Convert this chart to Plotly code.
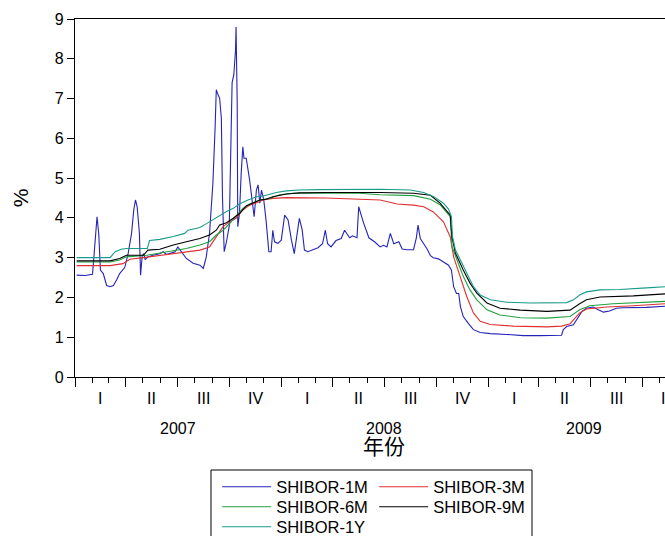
import plotly.graph_objects as go
import pandas as pd

# ---------------- data ----------------
dates_1m = ["2007-01-04","2007-01-19","2007-02-01","2007-02-05","2007-02-09","2007-02-12","2007-02-15","2007-02-20",
            "2007-02-26","2007-03-04","2007-03-10","2007-03-16","2007-03-21","2007-03-30","2007-04-05","2007-04-11",
            "2007-04-15","2007-04-18","2007-04-21","2007-04-25","2007-04-27","2007-04-30","2007-05-03","2007-05-05",
            "2007-05-10","2007-05-19","2007-05-31","2007-06-06","2007-06-12","2007-06-21","2007-06-27","2007-07-02",
            "2007-07-08","2007-07-17","2007-07-29","2007-08-10","2007-08-16","2007-08-21","2007-08-27","2007-09-02",
            "2007-09-06","2007-09-08","2007-09-11","2007-09-14","2007-09-17","2007-09-19","2007-09-22","2007-09-26",
            "2007-10-01","2007-10-03","2007-10-06","2007-10-09","2007-10-12","2007-10-13","2007-10-15","2007-10-16",
            "2007-10-19","2007-10-22","2007-10-25","2007-10-27","2007-10-31","2007-11-06","2007-11-11","2007-11-14",
            "2007-11-18","2007-11-21","2007-11-24","2007-11-27","2007-12-01","2007-12-05","2007-12-10","2007-12-14",
            "2007-12-17","2007-12-20","2007-12-26","2008-01-01","2008-01-07","2008-01-13","2008-01-19","2008-01-24",
            "2008-01-29","2008-02-02","2008-02-07","2008-02-11","2008-02-17","2008-02-26","2008-03-06","2008-03-14",
            "2008-03-19","2008-03-23","2008-03-29","2008-04-07","2008-04-16","2008-04-22","2008-04-26","2008-05-01",
            "2008-05-06","2008-05-14","2008-05-17","2008-05-25","2008-06-04","2008-06-14","2008-06-24","2008-06-30",
            "2008-07-06","2008-07-12","2008-07-18","2008-07-27","2008-08-02","2008-08-10","2008-08-22","2008-08-27",
            "2008-08-30","2008-09-03","2008-09-09","2008-09-15","2008-09-21","2008-09-26","2008-10-05","2008-10-14",
            "2008-10-23","2008-10-28","2008-10-30","2008-11-01","2008-11-06","2008-11-10","2008-11-13","2008-11-18",
            "2008-11-27","2008-12-06","2008-12-18","2009-01-05","2009-02-03","2009-03-04","2009-04-03","2009-05-11",
            "2009-05-14","2009-05-20","2009-06-01","2009-06-10","2009-06-16","2009-06-24","2009-07-06","2009-07-15",
            "2009-07-24","2009-08-04","2009-08-16","2009-08-28","2009-09-15","2009-10-08","2009-11-10"]
shibor_1m = [2.56,2.55,2.58,3.40,4.03,3.60,2.69,2.60,
             2.30,2.27,2.30,2.45,2.60,2.75,3.10,3.60,
             4.20,4.45,4.28,3.60,2.56,3.05,3.10,2.95,
             3.02,3.06,3.10,3.15,3.08,3.12,3.15,3.27,
             3.15,2.98,2.86,2.81,2.73,3.00,3.60,4.87,
             6.30,7.22,7.10,7.00,6.50,4.50,3.15,3.40,
             3.80,5.00,7.40,7.60,8.20,8.80,6.90,3.78,
             4.10,5.10,5.79,5.50,5.50,4.95,4.45,4.03,
             4.70,4.83,4.37,4.70,4.45,3.95,3.15,3.15,
             3.69,3.40,3.36,3.44,4.07,3.95,3.44,3.10,
             3.60,3.99,3.70,3.19,3.15,3.20,3.25,3.35,
             3.69,3.35,3.27,3.43,3.48,3.69,3.60,3.50,
             3.55,3.50,4.28,3.90,3.50,3.40,3.27,3.31,
             3.27,3.61,3.35,3.40,3.22,3.20,3.20,3.50,
             3.82,3.48,3.35,3.22,3.05,3.00,2.97,2.90,
             2.81,2.69,2.52,2.27,2.10,2.10,1.77,1.52,
             1.35,1.19,1.12,1.09,1.07,1.04,1.04,1.05,
             1.19,1.27,1.31,1.52,1.65,1.73,1.76,1.69,
             1.63,1.66,1.73,1.74,1.74,1.75,1.78]

dates_3m = ["2007-01-04","2007-03-04","2007-03-27","2007-04-08","2007-05-02","2007-05-31","2007-07-05","2007-08-10",
            "2007-08-27","2007-09-08","2007-09-20","2007-10-02","2007-10-13","2007-10-25","2007-11-06","2007-11-18",
            "2007-11-30","2007-12-17","2008-01-10","2008-03-20","2008-05-06","2008-05-18","2008-06-24","2008-07-24",
            "2008-08-22","2008-09-09","2008-09-26","2008-10-14","2008-10-26","2008-11-01","2008-11-13","2008-11-24",
            "2008-12-06","2008-12-18","2009-01-05","2009-02-15","2009-04-15","2009-05-11","2009-05-26","2009-06-12",
            "2009-06-24","2009-07-30","2009-09-15","2009-11-10"]
shibor_3m = [2.80,2.80,2.85,2.96,3.00,3.06,3.12,3.19,
             3.27,3.53,3.78,3.90,3.99,4.20,4.32,4.38,
             4.45,4.49,4.51,4.50,4.48,4.47,4.45,4.35,
             4.32,4.28,4.15,3.90,3.52,3.02,2.53,2.03,
             1.61,1.40,1.32,1.28,1.26,1.28,1.34,1.61,
             1.71,1.76,1.79,1.84]

dates_6m = ["2007-01-04","2007-03-04","2007-03-21","2007-04-02","2007-05-08","2007-05-31","2007-06-24","2007-07-17",
            "2007-08-10","2007-08-27","2007-09-08","2007-09-20","2007-10-02","2007-10-13","2007-10-25","2007-11-06",
            "2007-11-24","2007-12-11","2007-12-29","2008-01-22","2008-03-20","2008-05-18","2008-06-24","2008-08-22",
            "2008-09-21","2008-10-08","2008-10-26","2008-10-29","2008-11-07","2008-11-18","2008-11-30","2008-12-12",
            "2008-12-30","2009-01-22","2009-02-27","2009-04-15","2009-05-26","2009-06-12","2009-06-30","2009-08-10",
            "2009-11-10"]
shibor_6m = [2.89,2.89,2.94,3.02,3.06,3.11,3.17,3.23,
             3.32,3.40,3.57,3.69,3.86,4.03,4.24,4.35,
             4.45,4.49,4.58,4.62,4.62,4.62,4.58,4.56,
             4.47,4.33,4.03,3.28,2.94,2.53,2.19,1.94,
             1.69,1.56,1.49,1.48,1.52,1.69,1.79,1.84,
             1.90]

dates_9m = ["2007-01-04","2007-03-04","2007-03-21","2007-04-02","2007-05-02","2007-05-10","2007-05-31","2007-06-24",
            "2007-07-17","2007-08-10","2007-08-27","2007-09-08","2007-09-14","2007-09-26","2007-10-08","2007-10-19",
            "2007-10-31","2007-11-12","2007-11-24","2007-12-05","2007-12-17","2008-01-10","2008-02-02","2008-03-20",
            "2008-05-18","2008-06-24","2008-08-22","2008-09-21","2008-10-08","2008-10-26","2008-10-29","2008-11-04",
            "2008-11-18","2008-11-30","2008-12-12","2008-12-30","2009-01-22","2009-02-27","2009-04-15","2009-05-26",
            "2009-06-12","2009-06-24","2009-07-18","2009-09-15","2009-11-10"]
shibor_9m = [2.92,2.92,2.98,3.06,3.06,3.19,3.21,3.32,
             3.40,3.48,3.57,3.69,3.82,3.88,3.99,4.11,
             4.30,4.38,4.45,4.47,4.53,4.60,4.63,4.64,
             4.65,4.64,4.62,4.57,4.37,4.07,3.53,3.12,
             2.69,2.36,2.11,1.86,1.73,1.68,1.65,1.68,
             1.84,1.94,2.01,2.04,2.09]

dates_1y = ["2007-01-04","2007-03-04","2007-03-13","2007-03-24","2007-04-02","2007-05-09","2007-05-13","2007-05-31",
            "2007-06-24","2007-07-14","2007-07-20","2007-08-10","2007-08-21","2007-09-02","2007-09-14","2007-09-26",
            "2007-10-08","2007-10-19","2007-11-03","2007-11-18","2007-11-30","2007-12-11","2007-12-23","2008-01-10",
            "2008-02-02","2008-03-09","2008-04-19","2008-05-18","2008-06-24","2008-08-16","2008-09-09","2008-09-26",
            "2008-10-14","2008-10-23","2008-10-28","2008-10-30","2008-11-04","2008-11-13","2008-11-24","2008-12-06",
            "2008-12-18","2009-01-05","2009-02-03","2009-03-16","2009-05-20","2009-06-01","2009-06-12","2009-06-24",
            "2009-07-18","2009-08-22","2009-10-08","2009-11-10"]
shibor_1y = [3.00,3.00,3.15,3.21,3.23,3.23,3.43,3.46,
             3.53,3.61,3.69,3.76,3.85,3.95,4.07,4.16,
             4.24,4.35,4.45,4.53,4.55,4.59,4.64,4.68,
             4.70,4.71,4.71,4.72,4.72,4.70,4.64,4.54,
             4.37,4.22,4.03,3.53,3.20,2.94,2.61,2.27,
             2.06,1.94,1.88,1.86,1.87,1.94,2.06,2.14,
             2.19,2.20,2.24,2.27]

series_names = ["SHIBOR-1M", "SHIBOR-3M", "SHIBOR-6M", "SHIBOR-9M", "SHIBOR-1Y"]
legend_rows = ["legend", "legend", "legend2", "legend2", "legend3"]
quarter_labels = ["I", "II", "III", "IV"]
year_labels = ["2007", "2008", "2009"]
y_ticks = [0, 1, 2, 3, 4, 5, 6, 7, 8, 9]
x_start, x_end = "2007-01-01", "2009-11-10"

# ---------------- figure ----------------
colors = ["#2424b8", "#e03030", "#20a040", "#000000", "#1a9a8a"]
all_dates = [dates_1m, dates_3m, dates_6m, dates_9m, dates_1y]
all_vals = [shibor_1m, shibor_3m, shibor_6m, shibor_9m, shibor_1y]

fig = go.Figure()
for name, d, v, c, lg in zip(series_names, all_dates, all_vals, colors, legend_rows):
    fig.add_trace(go.Scatter(x=pd.to_datetime(d), y=v, mode="lines", name=name,
                             legend=lg, line=dict(color=c, width=1.1)))

t0, t1 = pd.Timestamp(x_start), pd.Timestamp(x_end)
span = (t1 - t0).total_seconds()
def frac(ts):
    return (pd.Timestamp(ts) - t0).total_seconds() / span

quarter_starts = pd.date_range("2007-01-01", "2009-10-01", freq="QS")
month_starts = pd.date_range("2007-01-01", "2009-11-01", freq="MS")

txt_font = dict(size=16, color="black", family="Liberation Sans, Arial")
ann = []
for qs in quarter_starts:
    mid = qs + (qs + pd.offsets.QuarterBegin(startingMonth=1) - qs) / 2
    ann.append(dict(x=frac(mid), y=-0.0587, xref="paper", yref="paper",
                    text=quarter_labels[(qs.month - 1) // 3], showarrow=False,
                    xanchor="center", yanchor="middle", font=txt_font))
year_pos = ["2007-07-02", "2008-07-01", "2009-06-20"]
for lab, pos in zip(year_labels, year_pos):
    ann.append(dict(x=frac(pos), y=-0.1425, xref="paper", yref="paper", text=lab,
                    showarrow=False, xanchor="center", yanchor="middle", font=txt_font))
ann.append(dict(x=frac("2008-07-01"), y=-0.19, xref="paper", yref="paper", text="年份",
                showarrow=False, xanchor="center", yanchor="middle",
                font=dict(size=21, color="black", family="Noto Sans CJK SC")))
ann.append(dict(x=-0.093, y=0.5, xref="paper", yref="paper", text="%", textangle=-90,
                showarrow=False, xanchor="center", yanchor="middle",
                font=dict(size=21, color="black", family="Liberation Sans, Arial")))

leg_font = dict(size=16.5, color="black", family="Liberation Sans, Arial")
def row_legend(ypos):
    return dict(orientation="h", x=0.241, y=ypos, xanchor="left", yanchor="middle",
                borderwidth=0, bgcolor="rgba(0,0,0,0)",
                entrywidth=93, itemwidth=49, font=leg_font)

fig.update_layout(
    width=665, height=536,
    margin=dict(l=75, r=0, t=19, b=159, autoexpand=False),
    paper_bgcolor="white", plot_bgcolor="white",
    showlegend=True,
    annotations=ann,
    legend=row_legend(-0.3073),
    legend2=row_legend(-0.3631),
    legend3=row_legend(-0.4190),
    shapes=[dict(type="rect", xref="paper", yref="paper",
                 x0=0.2305, x1=0.7746, y0=-0.2598, y1=-0.47,
                 line=dict(color="black", width=1), fillcolor="rgba(0,0,0,0)", layer="below")],
    xaxis=dict(type="date", range=[x_start, x_end], showgrid=False, zeroline=False,
               showline=True, linecolor="black", linewidth=1.2, mirror=True,
               tickvals=list(quarter_starts), ticks="outside", ticklen=9, tickcolor="black",
               tickwidth=1.2, showticklabels=False,
               minor=dict(tickvals=list(month_starts), ticks="outside", ticklen=5,
                          tickcolor="black", tickwidth=1, showgrid=False)),
    yaxis=dict(range=[0, 9], tickvals=y_ticks, showgrid=False, zeroline=False,
               showline=True, linecolor="black", linewidth=1.2,
               ticks="outside", ticklen=7, tickcolor="black", tickwidth=1.2,
               tickfont=dict(size=16, color="black", family="Liberation Sans, Arial")),
)

fig.write_html("out.html", config={"displayModeBar": False},
               post_script="document.body.style.margin='0';document.body.style.overflow='hidden';")
